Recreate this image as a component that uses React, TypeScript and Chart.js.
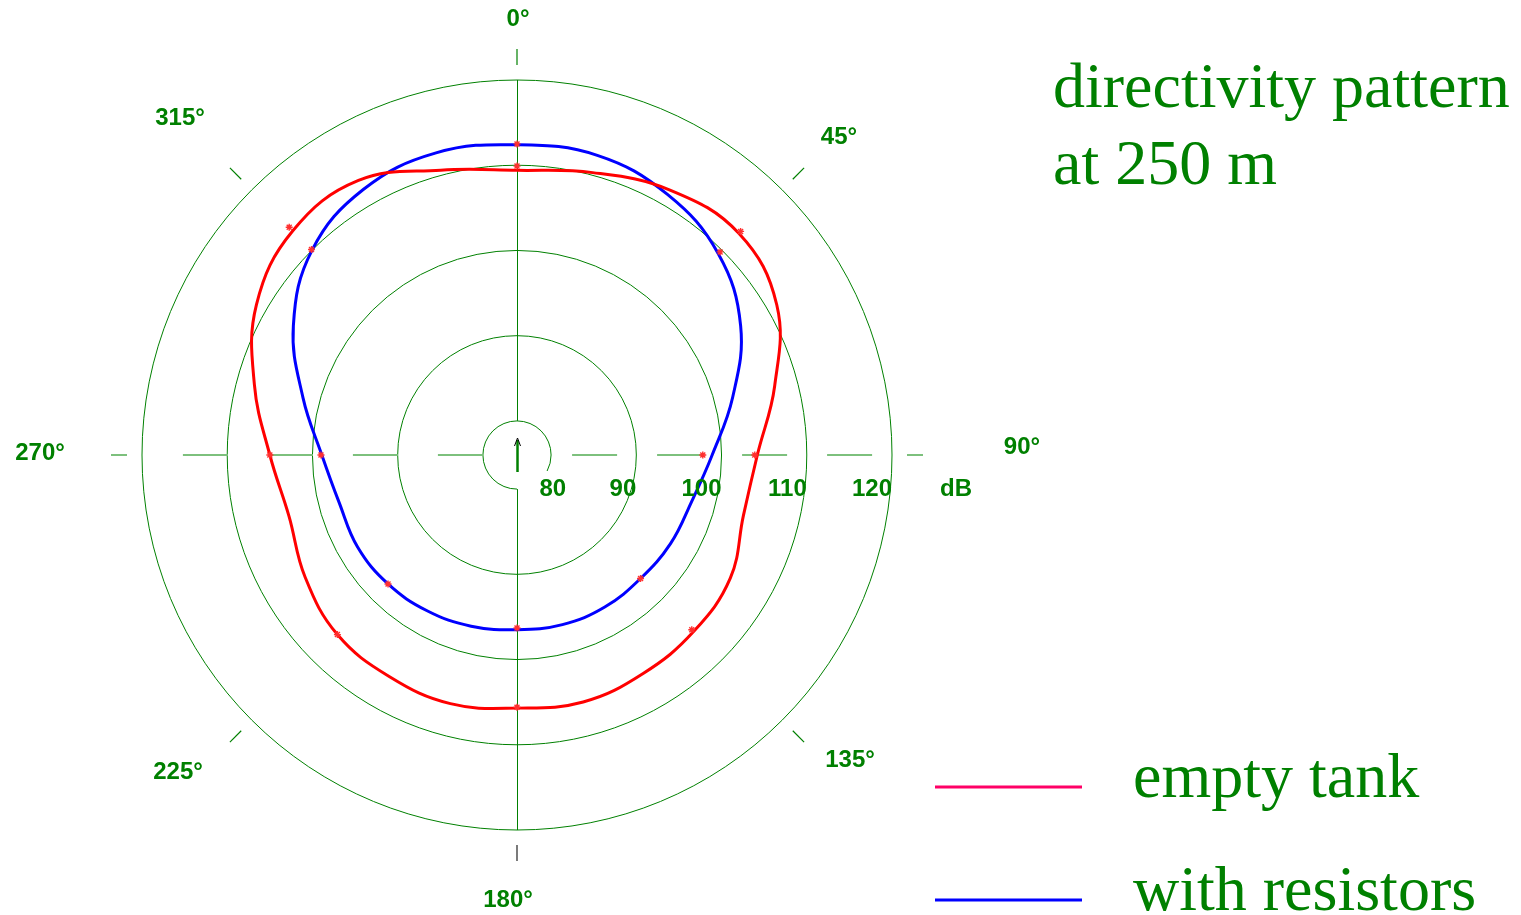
import React, { useEffect, useRef } from 'react';
import { Chart, registerables } from 'chart.js';

Chart.register(...registerables);

// ---- data (dB) ----
const ANGLES = [0, 15, 30, 45, 60, 75, 90, 105, 120, 135, 150, 165, 180, 195, 210, 225, 240, 255, 270, 285, 300, 315, 330, 345];
const ANGLE_LABELS = ANGLES.map((a) => `${a}°`);

const EMPTY_TANK = [109.4, 110.3, 111.9, 112.8, 111.2, 107.3, 104.2, 103.5, 104.9, 105.3, 105.6, 106.0, 105.7, 106.2, 106.0, 105.8, 104.7, 103.7, 105.0, 107.9, 111.3, 113.2, 113.2, 110.6];
const WITH_RESISTORS = [112.4, 112.4, 111.3, 109.4, 106.3, 102.2, 98.9, 97.2, 96.8, 96.5, 96.6, 96.6, 96.5, 96.8, 97.1, 97.4, 97.6, 97.6, 98.9, 102.0, 106.3, 110.0, 112.0, 112.7];

const MEASURED_ANGLES = [0, 45, 90, 135, 180, 225, 270, 315];
const EMPTY_TANK_MEASURED = [109.9, 113.1, 103.9, 105.0, 105.6, 105.8, 105.0, 113.8];
const WITH_RESISTORS_MEASURED = [112.5, 109.7, 97.8, 96.5, 96.3, 97.4, 99.0, 110.1];

const RING_VALUES = [80, 90, 100, 110, 120];
const RING_LABELS = ['80', '90', '100', '110', '120'];
const UNIT_LABEL = 'dB';
const COMPASS_ANGLES = [0, 45, 90, 135, 180, 225, 270, 315];
const COMPASS_LABELS = ['0°', '45°', '90°', '135°', '180°', '225°', '270°', '315°'];

const TITLE_LINES = ['directivity pattern', 'at 250 m'];
const LEGEND_LABELS = ['empty tank', 'with resistors'];

// ---- styles ----
const GREEN = 'rgb(0,128,0)';
const LIGHT_GREEN = 'rgb(125,192,125)';
const RED = '#ff0000';
const BLUE = '#0000ff';
const LEGEND_RED = '#ff0066';
const STAR_RED = '#ff3030';
const SANS_BOLD = 'bold 24px "Liberation Sans", Arial, sans-serif';
const SERIF = '64px "Liberation Serif", "Times New Roman", serif';

// text placement offsets relative to the polar centre (dx, dy)
const COMPASS_OFFSETS: [number, number][] = [
  [1, -436], [322, -318], [505, -8], [333, 305], [-9, 445], [-339, 317], [-477, -2], [-337, -337],
];

const expand = (vals: number[]) =>
  ANGLES.map((a) => {
    const i = MEASURED_ANGLES.indexOf(a);
    return i >= 0 ? vals[i] : null;
  });

const rad = (deg: number) => (deg * Math.PI) / 180;

const polarFrame = {
  id: 'polarFrame',
  beforeDatasetsDraw(chart: any) {
    const s = chart.scales.r;
    const ctx: CanvasRenderingContext2D = chart.ctx;
    const cx = s.xCenter;
    const cy = s.yCenter;
    const d = (v: number) => s.getDistanceFromCenterForValue(v);
    const rIn = d(RING_VALUES[0]);
    const rOut = d(RING_VALUES[RING_VALUES.length - 1]);
    ctx.save();
    // rings
    ctx.strokeStyle = GREEN;
    ctx.lineWidth = 1;
    RING_VALUES.forEach((v, i) => {
      ctx.beginPath();
      if (i === 0) ctx.arc(cx, cy, d(v), rad(90), rad(388));
      else ctx.arc(cx, cy, d(v), 0, Math.PI * 2);
      ctx.stroke();
    });
    // vertical axis
    ctx.beginPath();
    ctx.moveTo(cx + 0.5, cy - rIn);
    ctx.lineTo(cx + 0.5, cy - rOut);
    ctx.moveTo(cx + 0.5, cy + rIn);
    ctx.lineTo(cx + 0.5, cy + rOut);
    ctx.stroke();
    // horizontal dashed axis
    ctx.strokeStyle = LIGHT_GREEN;
    ctx.lineWidth = 2;
    ctx.setLineDash([45, 40]);
    ctx.lineDashOffset = 64;
    ctx.beginPath();
    ctx.moveTo(cx + rIn, cy);
    ctx.lineTo(cx + rOut, cy);
    ctx.stroke();
    ctx.lineDashOffset = 0;
    ctx.beginPath();
    ctx.moveTo(cx - rIn, cy);
    ctx.lineTo(cx - rOut, cy);
    ctx.stroke();
    ctx.setLineDash([]);
    // outer ticks
    COMPASS_ANGLES.forEach((a) => {
      const sx = Math.sin(rad(a));
      const sy = -Math.cos(rad(a));
      if (a === 90 || a === 270) {
        ctx.strokeStyle = LIGHT_GREEN;
        ctx.lineWidth = 2;
      } else if (a === 180) {
        ctx.strokeStyle = '#222';
        ctx.lineWidth = 1.2;
      } else {
        ctx.strokeStyle = GREEN;
        ctx.lineWidth = 1.2;
      }
      ctx.beginPath();
      ctx.moveTo(cx + sx * (rOut + 15), cy + sy * (rOut + 15));
      ctx.lineTo(cx + sx * (rOut + 31), cy + sy * (rOut + 31));
      ctx.stroke();
    });
    // centre arrow
    ctx.strokeStyle = GREEN;
    ctx.lineWidth = 2.5;
    ctx.beginPath();
    ctx.moveTo(cx + 0.5, cy + 17);
    ctx.lineTo(cx + 0.5, cy - 15);
    ctx.stroke();
    ctx.strokeStyle = '#000';
    ctx.lineWidth = 1;
    ctx.beginPath();
    ctx.moveTo(cx - 2.5, cy - 9);
    ctx.lineTo(cx + 0.5, cy - 17);
    ctx.lineTo(cx + 3.5, cy - 9);
    ctx.stroke();
    ctx.restore();
  },
  afterDraw(chart: any) {
    const s = chart.scales.r;
    const ctx: CanvasRenderingContext2D = chart.ctx;
    const cx = s.xCenter;
    const cy = s.yCenter;
    const d = (v: number) => s.getDistanceFromCenterForValue(v);
    const rOut = d(RING_VALUES[RING_VALUES.length - 1]);
    ctx.save();
    ctx.fillStyle = GREEN;
    ctx.font = SANS_BOLD;
    ctx.textBaseline = 'middle';
    // compass labels
    ctx.textAlign = 'center';
    COMPASS_LABELS.forEach((t, i) => {
      const [dx, dy] = COMPASS_OFFSETS[i];
      ctx.fillText(t, cx + dx, cy + dy);
    });
    // ring labels
    ctx.textAlign = 'right';
    RING_LABELS.forEach((t, i) => {
      const x = cx + Math.max(d(RING_VALUES[i]), d(RING_VALUES[0]) + 15);
      ctx.fillText(t, x, cy + 34);
    });
    ctx.fillText(UNIT_LABEL, cx + rOut + 80, cy + 34);
    // title
    ctx.textBaseline = 'alphabetic';
    ctx.textAlign = 'left';
    ctx.font = SERIF;
    ctx.fillText(TITLE_LINES[0], 1053, 107);
    ctx.fillText(TITLE_LINES[1], 1053, 184);
    // legend
    const legendY = [787, 900];
    const legendColors = [LEGEND_RED, BLUE];
    LEGEND_LABELS.forEach((t, i) => {
      ctx.strokeStyle = legendColors[i];
      ctx.lineWidth = 3;
      ctx.beginPath();
      ctx.moveTo(935, legendY[i]);
      ctx.lineTo(1082, legendY[i]);
      ctx.stroke();
      ctx.fillStyle = GREEN;
      ctx.fillText(t, 1133, legendY[i] + 10);
    });
    ctx.restore();
  },
};

export default function App() {
  const ref = useRef<HTMLCanvasElement>(null);
  useEffect(() => {
    const canvas = ref.current;
    if (!canvas) return;
    const starStyle = {
      showLine: false,
      pointStyle: 'star',
      pointRadius: 3.5,
      pointBorderWidth: 1.4,
      pointBorderColor: STAR_RED,
      pointBackgroundColor: STAR_RED,
      order: 0,
    };
    const chart = new Chart(canvas, {
      type: 'radar',
      data: {
        labels: ANGLE_LABELS,
        datasets: [
          { label: 'empty tank (measured)', data: expand(EMPTY_TANK_MEASURED), ...starStyle },
          { label: 'with resistors (measured)', data: expand(WITH_RESISTORS_MEASURED), ...starStyle },
          {
            label: LEGEND_LABELS[0],
            data: EMPTY_TANK,
            borderColor: RED,
            backgroundColor: 'transparent',
            borderWidth: 3,
            pointRadius: 0,
            fill: false,
            tension: 0.4,
            order: 1,
          },
          {
            label: LEGEND_LABELS[1],
            data: WITH_RESISTORS,
            borderColor: BLUE,
            backgroundColor: 'transparent',
            borderWidth: 3,
            pointRadius: 0,
            fill: false,
            tension: 0.4,
            order: 2,
          },
        ],
      } as any,
      options: {
        animation: false,
        responsive: false,
        maintainAspectRatio: false,
        devicePixelRatio: 1,
        layout: { padding: { left: 142, right: 629, top: 80, bottom: 85 } },
        plugins: { legend: { display: false }, tooltip: { enabled: false }, title: { display: false } },
        scales: {
          r: {
            min: 76,
            max: 120,
            ticks: { display: false, stepSize: 10 },
            grid: { display: false },
            angleLines: { display: false },
            pointLabels: { display: false },
          },
        },
      } as any,
      plugins: [polarFrame],
    });
    return () => chart.destroy();
  }, []);
  return (
    <div style={{ position: 'fixed', left: 0, top: 0, width: 1521, height: 915, background: '#fff' }}>
      <canvas ref={ref} width={1521} height={915} style={{ width: 1521, height: 915, display: 'block' }} />
    </div>
  );
}
